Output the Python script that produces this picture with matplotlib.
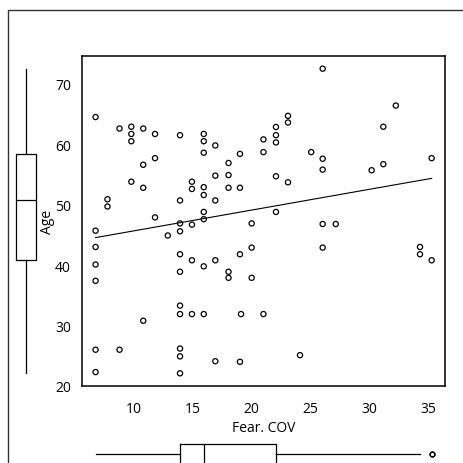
import matplotlib
matplotlib.use('Agg')
import matplotlib.pyplot as plt
from matplotlib.patches import Rectangle
import numpy as np

plt.rcParams['font.family'] = ['Open Sans', 'DejaVu Sans']

# data: Fear. COV (x) and Age (y)
fear_cov = [6.8, 6.8, 6.8, 6.8, 6.8, 6.8, 6.8,
            7.81, 7.81,
            8.83, 8.83,
            9.83, 9.83, 9.83, 9.83,
            10.84, 10.84, 10.84, 10.84,
            11.84, 11.84, 11.84,
            12.92,
            13.96, 13.96, 13.96, 13.96, 13.96, 13.96, 13.96, 13.96, 13.96, 13.96, 13.96,
            14.97, 14.97, 14.97, 14.97, 14.97,
            15.97, 15.97, 15.97, 15.97, 15.97, 15.97, 15.97, 15.97, 15.97,
            16.95, 16.95, 16.95, 16.95, 16.95,
            18.07, 18.07, 18.07, 18.07, 18.07,
            19.04, 19.04, 19.04, 19.04,
            19.13,
            20.03, 20.03, 20.03,
            21.03, 21.03, 21.03,
            22.09, 22.09, 22.09, 22.09, 22.09,
            23.11, 23.11, 23.11,
            24.13,
            25.08,
            26.05, 26.05, 26.05, 26.05, 26.05,
            27.16,
            30.2,
            31.19, 31.19,
            32.25,
            34.3, 34.3,
            35.29, 35.29]
age = [64.5, 45.7, 43.0, 40.1, 37.4, 26.0, 22.3,
       50.9, 49.7,
       62.6, 26.0,
       62.9, 61.7, 60.5, 53.8,
       62.6, 56.6, 52.8, 30.8,
       61.7, 57.7, 47.9,
       44.9,
       61.5, 50.7, 46.9, 45.6, 41.8, 38.9, 33.3, 31.9, 26.2, 24.9, 22.1,
       53.8, 52.6, 46.7, 40.8, 31.9,
       61.7, 60.5, 58.6, 52.9, 51.6, 48.8, 47.6, 39.8, 31.9,
       59.8, 54.8, 50.7, 40.8, 24.1,
       56.9, 54.9, 52.8, 38.9, 37.9,
       58.4, 52.8, 41.8, 24.0,
       31.9,
       46.9, 42.9, 37.9,
       60.8, 58.7, 31.9,
       62.85, 61.5, 60.3, 54.7, 48.8,
       64.7, 63.6, 53.7,
       25.1,
       58.7,
       72.5, 57.6, 55.8, 46.8, 42.9,
       46.8,
       55.7,
       62.9, 56.7,
       66.4,
       43.0, 41.8,
       57.7, 40.8]

x_ticks = [10, 15, 20, 25, 30, 35]
y_ticks = [20, 30, 40, 50, 60, 70]

x = np.array(fear_cov)
y = np.array(age)

W = H = 464.0
fig = plt.figure(figsize=(4.64, 4.64), dpi=100)

def px_axes(l, t, r, b):
    return fig.add_axes([l / W, 1 - b / H, (r - l) / W, (b - t) / H])

# outer frame (cropped at right and bottom)
fig.add_artist(Rectangle((8.5 / W, -0.2), 1.5, 0.2 + 1 - 11 / H, transform=fig.transFigure,
                         fill=False, edgecolor='#333333', linewidth=1.0))

ax = px_axes(82, 57, 445, 387)
ax.scatter(x, y, s=14, facecolors='none', edgecolors='black', linewidths=0.9, zorder=3)

# least squares line
b, a = np.polyfit(x, y, 1)
xs = np.array([x.min(), x.max()])
ax.plot(xs, a + b * xs, color='black', linewidth=0.8)

ax.set_xlim(5.65, 36.42)
ax.set_ylim(20.1, 74.6)
ax.set_xticks(x_ticks)
ax.set_yticks(y_ticks)
ax.tick_params(length=0, labelsize=10)
ax.tick_params(axis='x', pad=11)
ax.tick_params(axis='y', pad=8)
for s in ax.spines.values():
    s.set_linewidth(1.1)
ax.set_xlabel('Fear. COV', fontsize=10, labelpad=3)
ax.set_ylabel('Age', fontsize=10, labelpad=0)

box_style = dict(boxprops=dict(linewidth=0.9), whiskerprops=dict(linewidth=0.9),
                 medianprops=dict(color='black', linewidth=0.9), capprops=dict(linewidth=0),
                 flierprops=dict(marker='o', markersize=3.5, markerfacecolor='none',
                                 markeredgewidth=0.9))

# marginal boxplot for Age
axl = px_axes(6.5, 57, 46, 387)
axl.boxplot(y, positions=[0.5], widths=0.496, whis=(0, 100), **box_style)
axl.set_xlim(0, 1)
axl.set_ylim(ax.get_ylim())
axl.axis('off')

# marginal boxplot for Fear. COV
axb = px_axes(82, 435, 445, 475)
axb.boxplot(x, positions=[0.5], widths=0.5, vert=False, whis=(0, 98), **box_style)
axb.set_ylim(1, 0)
axb.set_xlim(ax.get_xlim())
axb.axis('off')

fig.savefig('out.png', dpi=100)
